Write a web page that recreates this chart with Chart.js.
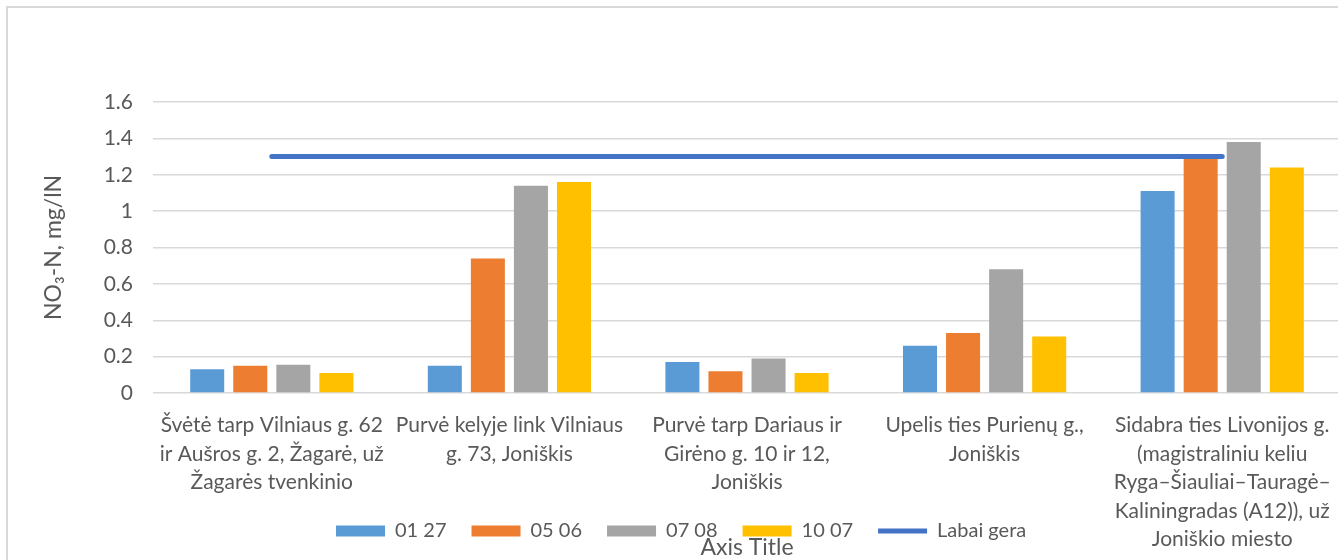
<!DOCTYPE html>
<html>
<head>
<meta charset="utf-8">
<script src="https://cdn.jsdelivr.net/npm/chart.js@4.4.1/dist/chart.umd.min.js"></script>
<style>
  html, body { margin: 0; padding: 0; overflow: hidden; background: #fff; }
  #frame { position: absolute; left: 6px; top: 6px; width: 1400px; height: 600px; border: 2px solid #d9d9d9; }
  #wrap { position: absolute; left: 0; top: 0; }
</style>
</head>
<body>
<div id="frame"></div>
<div id="wrap"><canvas id="chart" width="1341" height="560"></canvas></div>
<script>
// vietos (kategorijos)
const categories = [
  ['Švėtė tarp Vilniaus g. 62', 'ir Aušros g. 2, Žagarė, už', 'Žagarės tvenkinio'],
  ['Purvė kelyje link Vilniaus', 'g. 73, Joniškis'],
  ['Purvė tarp Dariaus ir', 'Girėno g. 10 ir 12,', 'Joniškis'],
  ['Upelis ties Purienų g.,', 'Joniškis'],
  ['Sidabra ties Livonijos g.', '(magistraliniu keliu', 'Ryga–Šiauliai–Tauragė–', 'Kaliningradas (A12)), už', 'Joniškio miesto'],
];

// mėginių datos ir reikšmės
const seriesNames = ['01 27', '05 06', '07 08', '10 07'];
const values0127 = [0.13, 0.15, 0.17, 0.26, 1.11];
const values0506 = [0.15, 0.74, 0.12, 0.33, 1.29];
const values0708 = [0.155, 1.14, 0.19, 0.68, 1.38];
const values1007 = [0.11, 1.16, 0.11, 0.31, 1.24];
const labaiGera = [1.3, 1.3, 1.3, 1.3, 1.3];

const yMin = 0;
const yMax = 1.6;
const yStep = 0.2;

const textColor = '#595959';
const font = 'Lato';

// legenda perkeliama į vietą kaip originale (virš ašies pavadinimo)
const legendPlace = {
  id: 'legendPlace',
  afterLayout(chart) {
    const lg = chart.legend;
    const w = lg.right - lg.left;
    const h = lg.bottom - lg.top;
    lg.left = 311;
    lg.right = 311 + w;
    lg.top = 496;
    lg.bottom = 496 + h;
  },
};

const ctx = document.getElementById('chart').getContext('2d');

new Chart(ctx, {
  type: 'bar',
  data: {
    labels: categories,
    datasets: [
      { label: seriesNames[0], data: values0127, backgroundColor: '#5b9bd5', pointStyle: 'rect', order: 1 },
      { label: seriesNames[1], data: values0506, backgroundColor: '#ed7d31', pointStyle: 'rect', order: 1 },
      { label: seriesNames[2], data: values0708, backgroundColor: '#a5a5a5', pointStyle: 'rect', order: 1 },
      { label: seriesNames[3], data: values1007, backgroundColor: '#ffc000', pointStyle: 'rect', order: 1 },
      {
        type: 'line',
        label: 'Labai gera',
        data: labaiGera,
        borderColor: '#4472c4',
        backgroundColor: '#4472c4',
        borderWidth: 5,
        borderCapStyle: 'round',
        pointRadius: 0,
        pointStyle: 'line',
        fill: false,
        order: 0,
      },
    ],
  },
  options: {
    responsive: false,
    animation: false,
    categoryPercentage: 0.725,
    barPercentage: 0.79,
    layout: { padding: { left: 40, top: 102, right: 0, bottom: -56 } },
    plugins: {
      tooltip: { enabled: false },
      legend: {
        position: 'bottom',
        align: 'start',
        labels: {
          usePointStyle: true,
          pointStyleWidth: 49,
          boxHeight: 11,
          padding: 25,
          color: textColor,
          font: { family: font, size: 20 },
          sort: (a, b) => a.datasetIndex - b.datasetIndex,
        },
      },
    },
    scales: {
      x: {
        grid: { display: false },
        border: { display: false },
        ticks: {
          color: textColor,
          font: { family: font, size: 21, lineHeight: 1.36 },
          padding: 10,
          autoSkip: false,
          maxRotation: 0,
          minRotation: 0,
        },
        title: {
          display: true,
          text: 'Axis Title',
          color: textColor,
          font: { family: font, size: 23 },
          padding: { top: 0, bottom: 0 },
        },
        afterFit: (scale) => { scale.height = 168; },
      },
      y: {
        min: yMin,
        max: yMax,
        grid: { color: '#d9d9d9', lineWidth: 1.5, drawTicks: false },
        border: { display: false },
        ticks: {
          stepSize: yStep,
          color: textColor,
          font: { family: font, size: 21 },
          padding: 20,
          callback: (v) => String(Number(v.toFixed(1))),
        },
        title: {
          display: true,
          text: 'NO₃-N, mg/lN',
          color: textColor,
          font: { family: font, size: 23 },
          padding: 0,
        },
        afterFit: (scale) => { scale.width = 113; },
      },
    },
  },
  plugins: [legendPlace],
});
</script>
</body>
</html>
